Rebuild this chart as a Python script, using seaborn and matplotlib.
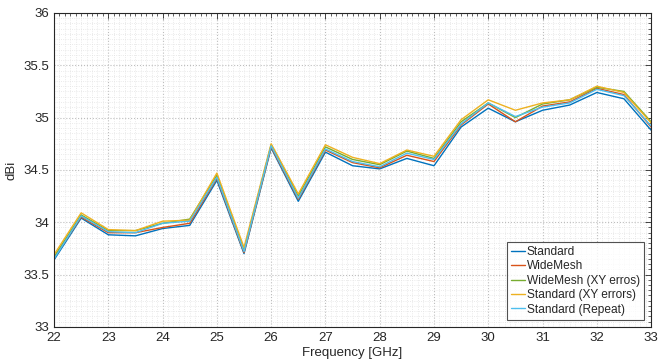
import numpy as np
import pandas as pd
import matplotlib
matplotlib.use("Agg")
import matplotlib.pyplot as plt
from matplotlib.ticker import MultipleLocator
import seaborn as sns

sns.set_style("white")
plt.rcParams['font.family'] = ['Liberation Sans', 'DejaVu Sans']
plt.rc("font", size=9.5)

freq = [22, 22.5, 23, 23.5, 24, 24.5, 25, 25.5, 26, 26.5, 27, 27.5,
        28, 28.5, 29, 29.5, 30, 30.5, 31, 31.5, 32, 32.5, 33]

standard = [33.64, 34.04, 33.88, 33.87, 33.94, 33.97, 34.40, 33.70, 34.71, 34.20, 34.67, 34.54,
            34.51, 34.61, 34.54, 34.91, 35.09, 34.96, 35.07, 35.12, 35.24, 35.18, 34.88]
widemesh = [33.66, 34.05, 33.90, 33.90, 33.95, 33.99, 34.42, 33.71, 34.72, 34.22, 34.69, 34.57,
            34.52, 34.64, 34.58, 34.93, 35.13, 34.96, 35.11, 35.15, 35.28, 35.22, 34.91]
widemesh_xy = [33.67, 34.07, 33.92, 33.92, 33.99, 34.03, 34.45, 33.73, 34.74, 34.25, 34.72, 34.60,
               34.55, 34.68, 34.61, 34.96, 35.14, 35.00, 35.13, 35.17, 35.29, 35.25, 34.96]
standard_xy = [33.69, 34.09, 33.93, 33.92, 34.01, 34.02, 34.47, 33.76, 34.75, 34.27, 34.74, 34.62,
               34.56, 34.69, 34.63, 34.98, 35.17, 35.07, 35.14, 35.17, 35.30, 35.24, 34.95]
standard_rep = [33.65, 34.06, 33.91, 33.90, 33.99, 34.01, 34.43, 33.72, 34.73, 34.23, 34.70, 34.58,
                34.53, 34.66, 34.60, 34.94, 35.14, 35.01, 35.10, 35.14, 35.27, 35.21, 34.92]

labels = ['Standard', 'WideMesh', 'WideMesh (XY erros)', 'Standard (XY errors)', 'Standard (Repeat)']
colors = ['#0072BD', '#D95319', '#77AC30', '#EDB120', '#4DBEEE']

df = pd.DataFrame({
    'freq': freq * 5,
    'dBi': standard + widemesh + widemesh_xy + standard_xy + standard_rep,
    'series': np.repeat(labels, len(freq)),
})

fig = plt.figure(figsize=(6.59, 3.6), dpi=100)
ax = fig.add_axes([0.082, 0.092, 0.906, 0.872])
sns.lineplot(data=df, x='freq', y='dBi', hue='series', hue_order=labels,
             palette=colors, linewidth=1.0, ax=ax)

ax.set_xlim(22, 33)
ax.set_ylim(33, 36)
ax.xaxis.set_major_locator(MultipleLocator(1))
ax.xaxis.set_minor_locator(MultipleLocator(0.1))
ax.yaxis.set_major_locator(MultipleLocator(0.5))
ax.yaxis.set_minor_locator(MultipleLocator(0.05))
ax.set_yticks([33, 33.5, 34, 34.5, 35, 35.5, 36])
ax.set_yticklabels(['33', '33.5', '34', '34.5', '35', '35.5', '36'])
ax.grid(which='major', color='#bdbdbd', linestyle=':', linewidth=0.8)
ax.grid(which='minor', color='#e3e3e3', linestyle=':', linewidth=0.6)
ax.set_axisbelow(True)
ax.tick_params(which='both', direction='in', top=True, right=True, color='#262626')
ax.tick_params(which='major', length=4, width=0.6)
ax.tick_params(which='minor', length=2, width=0.5)
for s in ax.spines.values():
    s.set_color('#262626')
    s.set_linewidth(0.8)
ax.set_xlabel('Frequency [GHz]', labelpad=2)
ax.set_ylabel('dBi', labelpad=4)

leg = ax.legend(loc='lower right', frameon=True, fancybox=False, handlelength=1.15,
                handletextpad=0.15, borderpad=0.35, borderaxespad=0.6, labelspacing=0.2,
                fontsize=8.6)
leg.get_frame().set_edgecolor('#262626')
leg.get_frame().set_linewidth(0.8)

fig.savefig('out.png', dpi=100)
